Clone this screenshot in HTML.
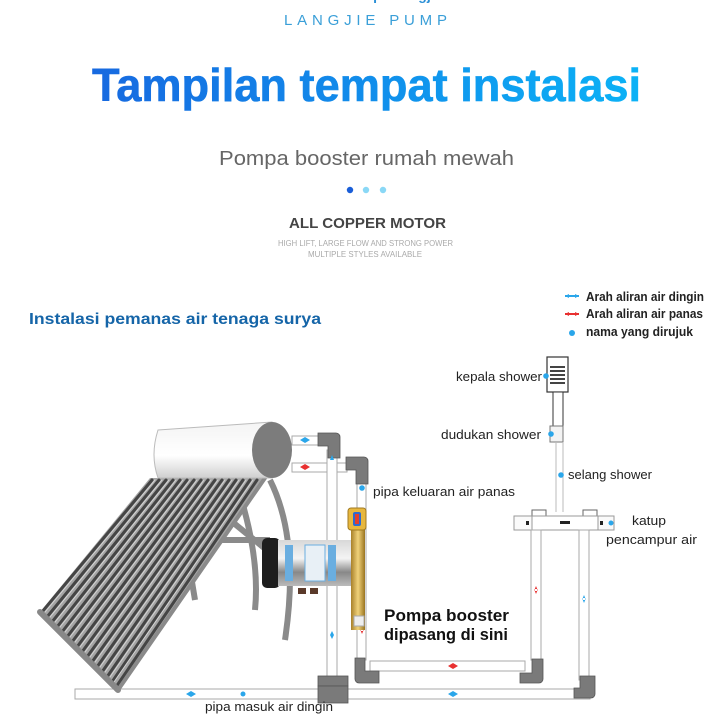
<!DOCTYPE html>
<html><head><meta charset="utf-8"><style>
html,body{margin:0;padding:0;background:#fff;width:727px;height:727px;overflow:hidden}
svg{display:block}
text{font-family:"Liberation Sans",sans-serif}
</style></head><body>
<svg width="727" height="727" viewBox="0 0 727 727" xmlns="http://www.w3.org/2000/svg">
<defs>
<linearGradient id="tg" x1="0" x2="1" y1="0" y2="0"><stop offset="0" stop-color="#1769e0"/><stop offset="1" stop-color="#0bb2f6"/></linearGradient>
<linearGradient id="pump" x1="0" x2="0" y1="0" y2="1"><stop offset="0" stop-color="#d8d8d8"/><stop offset=".4" stop-color="#f4f4f4"/><stop offset=".7" stop-color="#888"/><stop offset="1" stop-color="#bbb"/></linearGradient>
<linearGradient id="brass" x1="0" x2="1"><stop offset="0" stop-color="#a8802a"/><stop offset=".5" stop-color="#f0d27a"/><stop offset="1" stop-color="#9a7420"/></linearGradient>
<linearGradient id="tank" x1="0" x2="0" y1="0" y2="1"><stop offset="0" stop-color="#f4f4f4"/><stop offset=".6" stop-color="#fff"/><stop offset="1" stop-color="#cfcfcf"/></linearGradient>
</defs>
<!-- header -->
<text x="365" y="0" text-anchor="middle" font-size="14" font-weight="bold" fill="#2a8fd6">Industri Pompa Langjie</text>
<text x="284" y="25" font-size="15" fill="#3a9fd8" textLength="163" lengthAdjust="spacing">LANGJIE PUMP</text>
<text x="92" y="101" font-size="46" font-weight="bold" fill="url(#tg)" textLength="549" lengthAdjust="spacingAndGlyphs" stroke="url(#tg)" stroke-width="0.6">Tampilan tempat instalasi</text>
<text x="219" y="165" font-size="20" fill="#666" textLength="295" lengthAdjust="spacingAndGlyphs">Pompa booster rumah mewah</text>
<circle cx="350" cy="190" r="3.2" fill="#1a5ed8"/><circle cx="366" cy="190" r="3.2" fill="#8ad8f6"/><circle cx="383" cy="190" r="3.2" fill="#8ad8f6"/>
<text x="289" y="228" font-size="15" font-weight="bold" fill="#444" textLength="157" lengthAdjust="spacingAndGlyphs">ALL COPPER MOTOR</text>
<text x="278" y="246" font-size="8" fill="#aaa" textLength="175" lengthAdjust="spacingAndGlyphs">HIGH LIFT, LARGE FLOW AND STRONG POWER</text>
<text x="308" y="257" font-size="8" fill="#aaa" textLength="114" lengthAdjust="spacingAndGlyphs">MULTIPLE STYLES AVAILABLE</text>
<text x="29" y="324" font-size="16" font-weight="bold" fill="#1565a8" textLength="292" lengthAdjust="spacingAndGlyphs">Instalasi pemanas air tenaga surya</text>
<!-- legend -->
<path d="M565 296 h14" stroke="#2aa6ea" stroke-width="2"/><path d="M565 296 l4 -2 v4z M579 296 l-4 -2 v4z" fill="#2aa6ea"/>
<path d="M565 314 h14" stroke="#e83030" stroke-width="2"/><path d="M565 314 l4 -2 v4z M579 314 l-4 -2 v4z" fill="#e83030"/>
<circle cx="572" cy="333" r="3" fill="#2aa6ea"/>
<g font-size="12.5" font-weight="bold" fill="#222">
<text x="586" y="301" textLength="118" lengthAdjust="spacingAndGlyphs">Arah aliran air dingin</text>
<text x="586" y="318" textLength="117" lengthAdjust="spacingAndGlyphs">Arah aliran air panas</text>
<text x="586" y="336" textLength="107" lengthAdjust="spacingAndGlyphs">nama yang dirujuk</text>
</g>
<!-- shower -->
<rect x="547" y="357" width="21" height="35" fill="#fff" stroke="#333" stroke-width="1.2"/>
<g fill="#444"><rect x="550" y="366" width="15" height="2"/><rect x="550" y="370" width="15" height="2"/><rect x="550" y="374" width="15" height="2"/><rect x="550" y="378" width="15" height="2"/><rect x="550" y="382" width="15" height="2"/></g>
<rect x="553" y="392" width="10" height="34" fill="#fff" stroke="#333"/>
<rect x="550" y="426" width="13" height="16" fill="#f3f3f3" stroke="#777"/>
<path d="M556 442 V512 M563 442 V512" stroke="#bbb" stroke-width="1"/>
<circle cx="546" cy="376" r="2.8" fill="#2aa6ea"/><circle cx="551" cy="434" r="2.8" fill="#2aa6ea"/><circle cx="561" cy="475" r="2.8" fill="#2aa6ea"/>
<!-- mixer -->
<rect x="532" y="510" width="14" height="6" fill="#fff" stroke="#666"/><rect x="583" y="510" width="14" height="6" fill="#fff" stroke="#666"/>
<rect x="514" y="516" width="100" height="14" fill="#fafafa" stroke="#999"/>
<rect x="532" y="516" width="66" height="14" fill="#fff" stroke="#999"/>
<rect x="560" y="521" width="10" height="3" fill="#222"/><rect x="526" y="521" width="3" height="4" fill="#222"/><rect x="600" y="521" width="3" height="4" fill="#222"/>
<circle cx="611" cy="523" r="2.5" fill="#2aa6ea"/>
<!-- pipes -->
<g fill="#fff" stroke="#aaa" stroke-width="1">
<rect x="531" y="530" width="10" height="130"/>
<rect x="579" y="530" width="10" height="150"/>
<rect x="292" y="436" width="30" height="9"/>
<rect x="292" y="463" width="55" height="9"/>
<rect x="327" y="450" width="10" height="230"/>
<rect x="357" y="480" width="9" height="180"/>
<rect x="370" y="661" width="155" height="10"/>
<rect x="75" y="689" width="515" height="10"/>
</g>
<g fill="#7a7a7a" stroke="#555" stroke-width="0.8">
<path d="M318 433 h18 a4 4 0 0 1 4 4 v21 h-12 v-12 h-10z"/>
<path d="M346 457 h18 a4 4 0 0 1 4 4 v23 h-12 v-14 h-10z"/>
<path d="M355 658 h10 v13 h14 v12 h-20 a4 4 0 0 1 -4 -4z"/>
<path d="M520 673 h12 v-14 h11 v20 a4 4 0 0 1 -4 4 h-19z"/>
<path d="M574 688 h6 v-12 h15 v18 a4 4 0 0 1 -4 4 h-17z"/>
<rect x="318" y="676" width="30" height="10"/><rect x="318" y="686" width="30" height="17"/>
</g>
<!-- flow arrows -->
<g fill="#2aa6ea"><path d="M300 440 l5 -3 v6z M310 440 l-5 -3 v6z"/><path d="M332 455 l-2 5 h4z"/><path d="M332 548 l-2 4 h4z M332 556 l-2 -4 h4z"/><path d="M332 631 l-2 4 h4z M332 639 l-2 -4 h4z"/><path d="M186 694 l5 -3 v6z M196 694 l-5 -3 v6z"/><circle cx="243" cy="694" r="2.5"/><path d="M448 694 l5 -3 v6z M458 694 l-5 -3 v6z"/><path d="M584 595 l-2 5 h4z M584 603 l-2 -5 h4z"/><circle cx="362" cy="488" r="2.8"/></g>
<g fill="#e83030"><path d="M300 467 l5 -3 v6z M310 467 l-5 -3 v6z"/><path d="M536 586 l-2 5 h4z M536 594 l-2 -5 h4z"/><path d="M448 666 l5 -3 v6z M458 666 l-5 -3 v6z"/><path d="M362 626 l-2 5 h4z M362 634 l-2 -5 h4z"/></g>
<!-- solar heater stand -->
<g stroke="#8a8a8a" stroke-width="6" fill="none">
<path d="M270 480 Q300 540 285 640"/><path d="M230 520 L285 565"/><path d="M200 540 L270 540"/><path d="M190 570 L195 600"/><path d="M240 495 Q260 560 255 610"/>
</g>
<!-- tubes panel -->
<g stroke-linecap="round">
<path d="M150 478 L265 478 L118 690 L40 612 Z" fill="#a5a5a5"/>
<g stroke="#454545" stroke-width="3">
<line x1="152" y1="480" x2="42" y2="612"/><line x1="159" y1="480" x2="47" y2="617"/><line x1="166" y1="480" x2="52" y2="622"/><line x1="173" y1="480" x2="57" y2="627"/><line x1="180" y1="480" x2="62" y2="632"/><line x1="187" y1="480" x2="67" y2="637"/><line x1="194" y1="480" x2="72" y2="642"/><line x1="201" y1="480" x2="77" y2="647"/><line x1="208" y1="480" x2="82" y2="652"/><line x1="215" y1="480" x2="87" y2="657"/><line x1="222" y1="480" x2="92" y2="662"/><line x1="229" y1="480" x2="97" y2="667"/><line x1="236" y1="480" x2="102" y2="672"/><line x1="243" y1="480" x2="107" y2="677"/><line x1="250" y1="480" x2="112" y2="682"/><line x1="257" y1="480" x2="116" y2="687"/>
</g>
<g stroke="#d4d4d4" stroke-width="1">
<line x1="155" y1="480" x2="45" y2="612"/><line x1="162" y1="480" x2="50" y2="617"/><line x1="169" y1="480" x2="55" y2="622"/><line x1="176" y1="480" x2="60" y2="627"/><line x1="183" y1="480" x2="65" y2="632"/><line x1="190" y1="480" x2="70" y2="637"/><line x1="197" y1="480" x2="75" y2="642"/><line x1="204" y1="480" x2="80" y2="647"/><line x1="211" y1="480" x2="85" y2="652"/><line x1="218" y1="480" x2="90" y2="657"/><line x1="225" y1="480" x2="95" y2="662"/><line x1="232" y1="480" x2="100" y2="667"/><line x1="239" y1="480" x2="105" y2="672"/><line x1="246" y1="480" x2="110" y2="677"/><line x1="253" y1="480" x2="114" y2="682"/>
</g>
<path d="M40 612 L118 690" stroke="#888" stroke-width="6"/>
<path d="M265 478 L118 690" stroke="#8a8a8a" stroke-width="4"/>
</g>
<!-- tank -->
<path d="M158 430 L272 422 L272 478 L158 478 Q150 455 158 430Z" fill="url(#tank)" stroke="#bbb"/>
<ellipse cx="272" cy="450" rx="20" ry="28" fill="#7c7c7c"/>
<!-- pump -->
<rect x="262" y="538" width="18" height="50" rx="5" fill="#1e1e1e"/>
<rect x="278" y="540" width="80" height="46" fill="url(#pump)"/>
<rect x="285" y="545" width="8" height="36" fill="#6aaee0"/>
<rect x="305" y="545" width="20" height="36" fill="#e8f0f6" stroke="#6aaee0"/>
<rect x="328" y="545" width="8" height="36" fill="#6aaee0"/>
<rect x="298" y="588" width="8" height="6" fill="#5a3a2a"/><rect x="310" y="588" width="8" height="6" fill="#5a3a2a"/>
<rect x="351" y="510" width="14" height="120" fill="url(#brass)"/>
<rect x="348" y="508" width="18" height="22" rx="3" fill="#e7b73e" stroke="#a07a20"/>
<rect x="353" y="512" width="8" height="14" rx="2" fill="#2e6ad0"/><rect x="355" y="514" width="4" height="10" fill="#e04030"/>
<rect x="354" y="616" width="10" height="10" fill="#eee" stroke="#aaa"/>
<!-- labels -->
<g font-size="13" fill="#222">
<text x="373" y="496" textLength="142" lengthAdjust="spacingAndGlyphs">pipa keluaran air panas</text>
<text x="456" y="381" textLength="86" lengthAdjust="spacingAndGlyphs">kepala shower</text>
<text x="441" y="439" textLength="100" lengthAdjust="spacingAndGlyphs">dudukan shower</text>
<text x="568" y="479" textLength="84" lengthAdjust="spacingAndGlyphs">selang shower</text>
<text x="632" y="525" textLength="34" lengthAdjust="spacingAndGlyphs">katup</text>
<text x="606" y="544" textLength="91" lengthAdjust="spacingAndGlyphs">pencampur air</text>
<text x="205" y="711" textLength="128" lengthAdjust="spacingAndGlyphs">pipa masuk air dingin</text>
</g>
<g font-size="17" font-weight="bold" fill="#111">
<text x="384" y="621" textLength="125" lengthAdjust="spacingAndGlyphs">Pompa booster</text>
<text x="384" y="640" textLength="124" lengthAdjust="spacingAndGlyphs">dipasang di sini</text>
</g>
</svg>
</body></html>
